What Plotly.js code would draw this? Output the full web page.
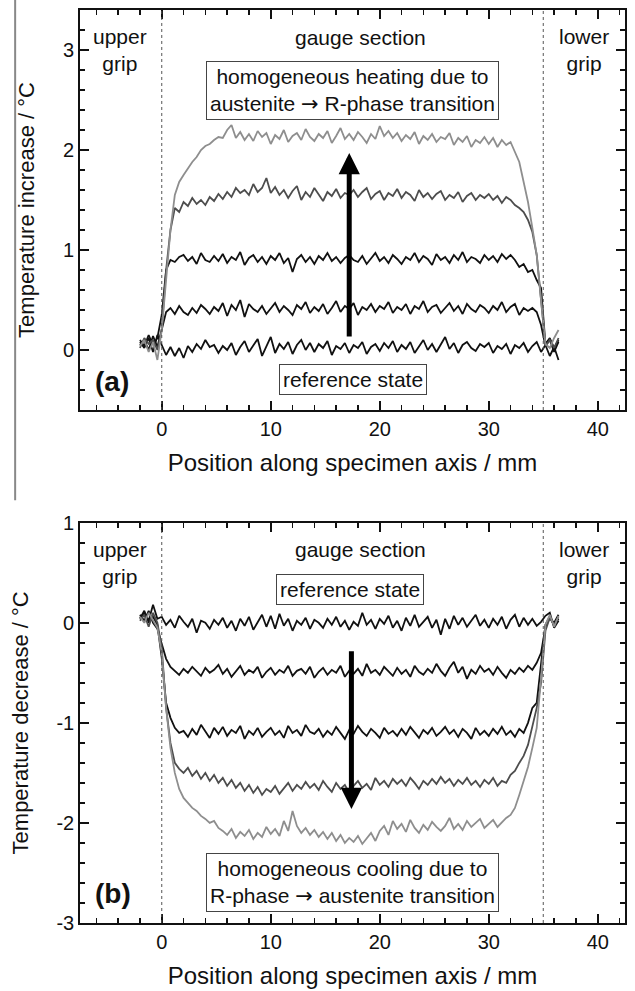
<!DOCTYPE html>
<html>
<head>
<meta charset="utf-8">
<script src="https://cdn.plot.ly/plotly-3.0.1.min.js"></script>
<style>html,body{margin:0;padding:0;background:#fff;}#chart{width:635px;height:991px;}</style>
</head>
<body>
<div id="chart"></div>
<script>
// Position along specimen axis / mm
const positionMM = [
-2.0,-1.6,-1.2,-0.8,-0.4,0.0,0.4,0.8,1.2,1.6,
2.0,2.4,2.8,3.2,3.6,4.0,4.4,4.8,5.2,5.6,
6.0,6.4,6.8,7.2,7.6,8.0,8.4,8.8,9.2,9.6,
10.0,10.4,10.8,11.2,11.6,12.0,12.4,12.8,13.2,13.6,
14.0,14.4,14.8,15.2,15.6,16.0,16.4,16.8,17.2,17.6,
18.0,18.4,18.8,19.2,19.6,20.0,20.4,20.8,21.2,21.6,
22.0,22.4,22.8,23.2,23.6,24.0,24.4,24.8,25.2,25.6,
26.0,26.4,26.8,27.2,27.6,28.0,28.4,28.8,29.2,29.6,
30.0,30.4,30.8,31.2,31.6,32.0,32.4,32.8,33.2,33.6,
34.0,34.4,34.8,35.2,35.6,36.0,36.4];

// (a) Temperature increase / °C
const heatRef = [
0.08,0.02,0.12,-0.02,0.15,0.05,-0.05,0.03,-0.06,0.02,
-0.08,0.04,-0.02,0.06,0.01,0.10,0.03,0.05,-0.03,0.04,
0.00,0.07,-0.05,0.03,0.09,-0.02,0.05,0.11,-0.06,0.04,
0.13,-0.03,0.06,0.01,0.08,-0.04,0.05,0.10,0.00,0.07,
-0.02,0.06,0.02,0.09,-0.05,0.04,0.01,0.07,-0.03,0.05,
0.02,0.08,-0.04,0.03,0.06,-0.01,0.07,0.02,0.09,-0.02,
0.05,0.01,0.08,-0.03,0.04,0.10,0.00,0.06,-0.02,0.05,
0.13,0.01,0.07,-0.03,0.05,0.08,0.02,-0.01,0.06,0.03,
0.07,-0.03,0.04,0.01,0.06,-0.04,0.05,0.02,0.07,-0.02,
0.04,0.08,-0.02,0.05,-0.06,0.03,-0.10];
const heat1 = [
0.05,0.10,0.00,0.14,0.03,0.20,0.38,0.42,0.36,0.44,
0.38,0.35,0.42,0.37,0.45,0.41,0.36,0.43,0.39,0.47,
0.34,0.45,0.40,0.50,0.33,0.46,0.41,0.38,0.44,0.36,
0.42,0.47,0.38,0.44,0.40,0.35,0.45,0.41,0.48,0.37,
0.43,0.39,0.46,0.36,0.42,0.49,0.38,0.44,0.41,0.47,
0.35,0.43,0.40,0.46,0.38,0.44,0.41,0.48,0.37,0.43,
0.40,0.46,0.36,0.44,0.41,0.49,0.38,0.43,0.45,0.37,
0.42,0.47,0.39,0.44,0.36,0.46,0.41,0.38,0.45,0.42,
0.37,0.44,0.40,0.48,0.38,0.43,0.46,0.35,0.42,0.39,
0.42,0.38,0.25,0.04,0.10,-0.02,0.08];
const heat2 = [
0.10,0.04,0.15,0.05,0.12,0.35,0.80,0.90,0.88,0.93,
0.95,0.89,0.93,0.86,0.97,0.90,0.88,0.94,0.89,0.96,
0.87,0.93,0.90,0.98,0.85,0.92,0.95,0.88,0.93,0.86,
0.94,0.90,0.97,0.87,0.92,0.78,0.91,0.95,0.88,0.93,
0.86,0.94,0.90,0.97,0.89,0.93,0.87,0.92,0.95,0.90,
0.88,0.94,0.86,0.92,0.97,0.89,0.93,0.87,0.95,0.91,
0.86,0.93,0.90,0.97,0.88,0.94,0.91,0.85,0.96,0.90,
0.93,0.87,0.95,0.90,0.98,0.88,0.93,0.91,0.87,0.95,
0.90,0.94,0.88,0.96,0.91,0.95,0.90,0.83,0.86,0.78,
0.80,0.70,0.62,0.06,0.12,0.02,0.10];
const heat3 = [
0.02,0.12,0.06,0.10,0.00,0.20,0.80,1.20,1.42,1.38,
1.48,1.44,1.52,1.46,1.50,1.45,1.53,1.49,1.56,1.51,
1.58,1.53,1.62,1.57,1.60,1.55,1.66,1.58,1.62,1.72,
1.57,1.63,1.55,1.60,1.52,1.59,1.64,1.50,1.58,1.53,
1.62,1.56,1.49,1.58,1.54,1.61,1.52,1.57,1.55,1.60,
1.53,1.58,1.62,1.51,1.56,1.59,1.50,1.57,1.54,1.61,
1.52,1.58,1.55,1.49,1.60,1.53,1.57,1.51,1.56,1.59,
1.50,1.55,1.52,1.58,1.48,1.54,1.57,1.50,1.55,1.52,
1.56,1.50,1.54,1.47,1.53,1.50,1.45,1.42,1.38,1.30,
1.18,0.95,0.52,0.04,0.10,0.02,0.12];
const heat4 = [
0.04,0.10,-0.02,0.08,-0.10,0.20,0.70,1.20,1.55,1.68,
1.75,1.82,1.88,1.93,2.00,2.04,2.06,2.10,2.13,2.12,
2.20,2.25,2.12,2.18,2.10,2.16,2.09,2.19,2.13,2.17,
2.06,2.15,2.11,2.20,2.08,2.14,2.17,2.10,2.21,2.13,
2.09,2.16,2.12,2.19,2.07,2.14,2.22,2.11,2.16,2.10,
2.18,2.13,2.07,2.16,2.11,2.24,2.14,2.19,2.12,2.17,
2.09,2.15,2.11,2.18,2.06,2.14,2.10,2.16,2.08,2.13,
2.11,2.17,2.05,2.12,2.08,2.14,2.03,2.10,2.07,2.13,
2.06,2.12,2.03,2.10,2.05,2.08,1.97,1.88,1.68,1.48,
1.22,0.95,0.50,0.06,0.02,0.12,0.20];

// (b) Temperature decrease / °C
const coolRef = [
0.05,0.10,0.02,0.18,0.04,0.06,-0.02,0.03,-0.05,0.07,
0.01,-0.04,0.04,-0.10,0.02,0.00,-0.06,0.03,-0.02,0.05,
-0.05,0.02,-0.08,0.04,-0.03,0.06,-0.07,0.01,0.08,-0.04,
0.07,-0.06,0.09,-0.03,0.04,-0.08,0.02,-0.02,0.05,-0.06,
0.03,0.00,-0.05,0.04,-0.02,0.06,-0.04,0.02,-0.07,0.01,
-0.03,0.10,-0.02,0.03,-0.06,0.04,-0.01,0.07,-0.05,0.02,
-0.08,0.05,-0.03,0.08,-0.04,0.01,0.06,-0.05,0.03,-0.12,
0.04,-0.06,0.07,-0.02,0.05,-0.04,0.02,0.08,-0.03,0.03,
-0.05,0.04,-0.02,0.06,-0.06,0.03,0.08,-0.04,0.05,-0.02,
0.04,-0.03,0.01,0.07,0.10,-0.05,0.02];
const cool1 = [
0.08,0.02,0.12,0.00,-0.06,-0.20,-0.36,-0.44,-0.48,-0.52,
-0.46,-0.50,-0.44,-0.49,-0.53,-0.45,-0.50,-0.47,-0.42,-0.51,
-0.46,-0.54,-0.48,-0.43,-0.52,-0.47,-0.50,-0.44,-0.55,-0.49,
-0.45,-0.52,-0.47,-0.50,-0.43,-0.53,-0.48,-0.46,-0.51,-0.44,
-0.55,-0.49,-0.45,-0.52,-0.47,-0.50,-0.43,-0.54,-0.48,-0.51,
-0.46,-0.53,-0.41,-0.50,-0.47,-0.52,-0.44,-0.49,-0.53,-0.45,
-0.51,-0.47,-0.54,-0.43,-0.49,-0.52,-0.46,-0.50,-0.41,-0.48,
-0.53,-0.45,-0.39,-0.50,-0.44,-0.56,-0.47,-0.51,-0.43,-0.49,
-0.46,-0.52,-0.44,-0.50,-0.55,-0.47,-0.51,-0.45,-0.49,-0.43,
-0.47,-0.40,-0.30,-0.04,0.05,0.00,0.08];
const cool2 = [
0.04,0.12,0.00,0.06,-0.02,-0.35,-0.80,-0.95,-1.05,-1.10,
-1.08,-1.14,-1.06,-1.12,-1.02,-1.09,-1.15,-1.05,-1.11,-1.04,
-1.13,-1.07,-1.10,-1.03,-1.16,-1.08,-1.12,-1.05,-1.14,-1.09,
-1.05,-1.12,-1.08,-1.15,-1.03,-1.10,-1.07,-1.13,-1.02,-1.09,
-1.11,-1.06,-1.14,-1.08,-1.12,-1.04,-1.10,-1.16,-1.07,-1.11,
-1.03,-1.09,-1.13,-1.06,-1.10,-1.15,-1.05,-1.11,-1.08,-1.13,
-1.06,-1.12,-1.04,-1.10,-1.15,-1.07,-1.11,-1.05,-1.13,-1.09,
-1.04,-1.11,-1.07,-1.14,-1.06,-1.10,-1.16,-1.05,-1.12,-1.08,
-1.13,-1.06,-1.11,-1.04,-1.12,-1.08,-1.14,-1.06,-1.10,-1.00,
-0.85,-0.80,-0.40,-0.02,0.06,-0.03,0.04];
const cool3 = [
0.02,0.08,-0.04,0.10,0.00,-0.25,-0.85,-1.20,-1.40,-1.46,
-1.50,-1.45,-1.53,-1.48,-1.56,-1.50,-1.58,-1.52,-1.60,-1.55,
-1.63,-1.57,-1.65,-1.60,-1.68,-1.62,-1.70,-1.64,-1.72,-1.66,
-1.69,-1.63,-1.71,-1.66,-1.60,-1.68,-1.62,-1.66,-1.59,-1.65,
-1.61,-1.67,-1.58,-1.64,-1.69,-1.60,-1.66,-1.62,-1.70,-1.63,
-1.58,-1.65,-1.61,-1.67,-1.55,-1.62,-1.58,-1.64,-1.56,-1.61,
-1.57,-1.63,-1.55,-1.60,-1.66,-1.58,-1.62,-1.56,-1.61,-1.54,
-1.60,-1.56,-1.63,-1.57,-1.61,-1.55,-1.62,-1.58,-1.64,-1.57,
-1.61,-1.55,-1.63,-1.58,-1.60,-1.52,-1.48,-1.40,-1.33,-1.22,
-1.02,-0.85,-0.60,-0.08,0.05,-0.02,0.06];
const cool4 = [
0.06,0.00,0.10,0.03,-0.05,-0.30,-0.85,-1.25,-1.50,-1.66,
-1.75,-1.80,-1.85,-1.88,-1.93,-1.96,-2.00,-1.98,-2.05,-2.08,
-2.12,-2.06,-2.15,-2.09,-2.13,-2.07,-2.16,-2.10,-2.14,-2.04,
-2.11,-2.06,-2.13,-1.98,-2.08,-1.88,-2.03,-2.10,-2.05,-2.12,
-2.07,-2.14,-2.09,-2.16,-2.10,-2.18,-2.12,-2.20,-2.15,-2.19,
-2.13,-2.21,-2.16,-2.10,-2.18,-2.08,-2.03,-2.12,-1.98,-2.06,
-2.01,-2.09,-1.97,-2.05,-2.10,-2.02,-2.07,-1.99,-2.04,-2.08,
-2.03,-1.95,-2.06,-2.01,-2.07,-1.98,-2.04,-2.00,-1.96,-2.05,
-2.01,-1.97,-2.04,-1.99,-1.95,-1.92,-1.85,-1.72,-1.58,-1.44,
-1.25,-1.05,-0.55,-0.02,0.08,-0.04,0.07];

const xTickVals = [0, 10, 20, 30, 40];
const xTickText = ['0', '10', '20', '30', '40'];
const yTopTickVals = [0, 1, 2, 3];
const yTopTickText = ['0', '1', '2', '3'];
const yBotTickVals = [-3, -2, -1, 0, 1];
const yBotTickText = ['-3', '-2', '-1', '0', '1'];

const BLACK = '#111111', DARK = '#4d4d4d', LIGHT = '#8e8e8e';
const FONT = 'Liberation Sans, Arial, sans-serif';
const ARROW = '<span style="font-family:\'DejaVu Sans\'">\u2192</span>';

function tr(y, color, xa, ya) {
  return {x: positionMM, y: y, type: 'scatter', mode: 'lines', xaxis: xa, yaxis: ya,
    line: {color: color, width: 1.8}, showlegend: false, hoverinfo: 'skip'};
}
const data = [
  tr(heatRef, BLACK, 'x', 'y'), tr(heat1, BLACK, 'x', 'y'), tr(heat2, BLACK, 'x', 'y'),
  tr(heat3, DARK, 'x', 'y'), tr(heat4, LIGHT, 'x', 'y'),
  tr(coolRef, BLACK, 'x2', 'y2'), tr(cool1, BLACK, 'x2', 'y2'), tr(cool2, BLACK, 'x2', 'y2'),
  tr(cool3, DARK, 'x2', 'y2'), tr(cool4, LIGHT, 'x2', 'y2')
];

function xaxis(anchor) {
  return {anchor: anchor, range: [-7.5, 42.5], tickmode: 'array', tickvals: xTickVals, ticktext: xTickText,
    ticks: 'inside', ticklen: 9, tickwidth: 1.8, tickcolor: '#111', showline: true, linecolor: '#111', linewidth: 1.8,
    mirror: 'ticks', showgrid: false, zeroline: false, tickfont: {family: FONT, size: 20, color: '#111'},
    minor: {dtick: 2, tick0: 0, ticks: 'inside', ticklen: 5, tickwidth: 1.5, tickcolor: '#111', showgrid: false},
    title: {text: 'Position along specimen axis / mm', font: {family: FONT, size: 24, color: '#111'}, standoff: 15}};
}
function yaxis(anchor, domain, range, tv, tt, title) {
  return {anchor: anchor, domain: domain, range: range, tickmode: 'array', tickvals: tv, ticktext: tt,
    ticks: 'inside', ticklen: 9, tickwidth: 1.8, tickcolor: '#111', showline: true, linecolor: '#111', linewidth: 1.8,
    mirror: 'ticks', showgrid: false, zeroline: false, tickfont: {family: FONT, size: 20, color: '#111'},
    minor: {dtick: 0.2, tick0: 0, ticks: 'inside', ticklen: 5, tickwidth: 1.5, tickcolor: '#111', showgrid: false},
    title: {text: title, font: {family: FONT, size: 22, color: '#111'}, standoff: 22}};
}

function txt(xref, yref, x, y, text, extra) {
  return Object.assign({xref: xref, yref: yref, x: x, y: y, text: text, showarrow: false,
    font: {family: FONT, size: 21, color: '#111'}, xanchor: 'center', yanchor: 'middle'}, extra || {});
}
const boxed = {bordercolor: '#444', borderwidth: 1, borderpad: 3, bgcolor: 'rgba(255,255,255,0)'};

const annotations = [
  txt('x', 'y', -3.8, 3.0, 'upper<br>grip'),
  txt('x', 'y', 18.2, 3.13, 'gauge section'),
  txt('x', 'y', 38.7, 3.0, 'lower<br>grip'),
  txt('x', 'y', 17.5, 2.6, 'homogeneous heating due to<br>austenite ' + ARROW + ' R-phase transition', boxed),
  txt('x', 'y', 17.5, -0.3, 'reference state', boxed),
  txt('x', 'y', -4.6, -0.32, '<b>(a)</b>', {font: {family: FONT, size: 28, color: '#111'}}),
  txt('x2', 'y2', -3.8, 0.6, 'upper<br>grip'),
  txt('x2', 'y2', 18.2, 0.73, 'gauge section'),
  txt('x2', 'y2', 38.7, 0.6, 'lower<br>grip'),
  txt('x2', 'y2', 17.3, 0.33, 'reference state', boxed),
  txt('x2', 'y2', 17.5, -2.6, 'homogeneous cooling due to<br>R-phase ' + ARROW + ' austenite transition', boxed),
  txt('x2', 'y2', -4.5, -2.71, '<b>(b)</b>', {font: {family: FONT, size: 28, color: '#111'}}),
  {xref: 'x', yref: 'y', x: 17.2, y: 1.97, ax: 17.2, ay: 0.12, axref: 'x', ayref: 'y', text: '',
    showarrow: true, arrowhead: 2, arrowsize: 0.85, arrowwidth: 5, arrowcolor: '#000'},
  {xref: 'x2', yref: 'y2', x: 17.4, y: -1.86, ax: 17.4, ay: -0.27, axref: 'x2', ayref: 'y2', text: '',
    showarrow: true, arrowhead: 2, arrowsize: 0.85, arrowwidth: 5, arrowcolor: '#000'}
];

const dot = {color: '#555', width: 1, dash: 'dot'};
const shapes = [
  {type: 'line', xref: 'x', yref: 'y domain', x0: 0, x1: 0, y0: 0, y1: 1, line: dot},
  {type: 'line', xref: 'x', yref: 'y domain', x0: 35, x1: 35, y0: 0, y1: 1, line: dot},
  {type: 'line', xref: 'x2', yref: 'y2 domain', x0: 0, x1: 0, y0: 0, y1: 1, line: dot},
  {type: 'line', xref: 'x2', yref: 'y2 domain', x0: 35, x1: 35, y0: 0, y1: 1, line: dot},
  {type: 'line', xref: 'paper', yref: 'paper', x0: -0.119, x1: -0.119, y0: 1.011, y1: 0.463,
    line: {color: '#888', width: 2}}
];

const layout = {
  width: 635, height: 991, paper_bgcolor: '#fff', plot_bgcolor: '#fff',
  margin: {l: 80, r: 10, t: 10, b: 68}, showlegend: false,
  xaxis: xaxis('y'), yaxis: yaxis('x', [0.5619, 1], [-0.6, 3.4], yTopTickVals, yTopTickText, 'Temperature increase / \u00B0C'),
  xaxis2: xaxis('y2'), yaxis2: yaxis('x2', [0, 0.4384], [-3, 1], yBotTickVals, yBotTickText, 'Temperature decrease / \u00B0C'),
  annotations: annotations, shapes: shapes, font: {family: FONT}
};

Plotly.newPlot('chart', data, layout, {displayModeBar: false, staticPlot: true});
</script>
</body>
</html>
